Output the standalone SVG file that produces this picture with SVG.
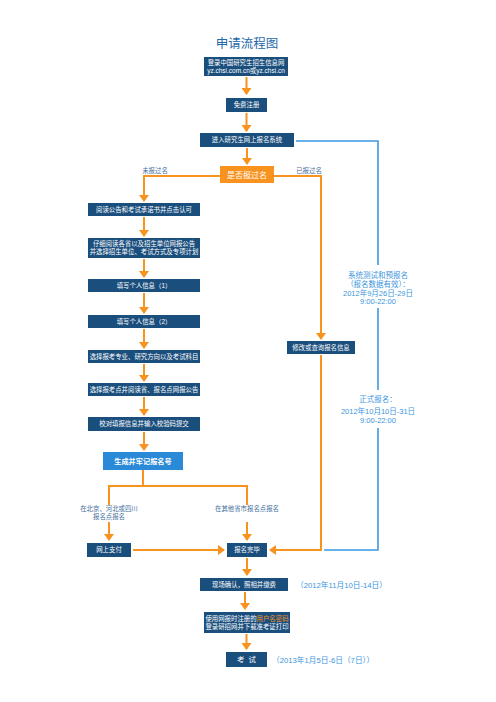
<svg xmlns="http://www.w3.org/2000/svg" width="496" height="702" viewBox="0 0 496 702">
<style>
text{font-family:"Liberation Sans","Noto Sans CJK SC",sans-serif;text-anchor:middle}
.box{fill:#1a4e7d}
.bt{fill:#ffffff;font-size:6.4px}
.or{fill:none;stroke:#f7931e;stroke-width:2}
.bl{fill:none;stroke:#3b98e0;stroke-width:1.6}
.lab{fill:#3f6e9c;font-size:6.4px}
.blt{fill:#3b95dd;font-size:7.5px}
.bll{fill:#3b95dd;font-size:7.7px;text-anchor:start}
</style>
<defs>
<marker id="ah" markerUnits="userSpaceOnUse" viewBox="0 0 7 10" markerWidth="7" markerHeight="10" refX="6" refY="5" orient="auto">
<path d="M0,0 L7,5 L0,10 z" fill="#f7931e"/>
</marker>
</defs>
<rect width="496" height="702" fill="#ffffff"/>
<text x="247" y="48" style="font-size:12.5px;fill:#2667a8">申请流程图</text>

<g id="connectors">
<path class="or" d="M246.5,77 V94" marker-end="url(#ah)"/>
<path class="or" d="M246.5,113 V131" marker-end="url(#ah)"/>
<path class="or" d="M247,148 V164" marker-end="url(#ah)"/>
<path class="or" d="M220,176 H144 V201" marker-end="url(#ah)"/>
<path class="or" d="M274,176 H321 V339" marker-end="url(#ah)"/>
<path class="or" d="M144,217 V236" marker-end="url(#ah)"/>
<path class="or" d="M144,259 V277" marker-end="url(#ah)"/>
<path class="or" d="M144,293 V313" marker-end="url(#ah)"/>
<path class="or" d="M144,329 V348" marker-end="url(#ah)"/>
<path class="or" d="M144,364 V381" marker-end="url(#ah)"/>
<path class="or" d="M144,397 V415" marker-end="url(#ah)"/>
<path class="or" d="M144,432 V450" marker-end="url(#ah)"/>
<path class="or" d="M143,470 V486"/>
<path class="or" d="M109,505 V486 H247 V505"/>
<path class="or" d="M109,522 V540" marker-end="url(#ah)"/>
<path class="or" d="M247,522 V540" marker-end="url(#ah)"/>
<path class="or" d="M133,550 H224" marker-end="url(#ah)"/>
<path class="or" d="M321,355 V550 H270" marker-end="url(#ah)"/>
<path class="bl" d="M296,141 H378 V265"/>
<path class="bl" d="M378,308 V390"/>
<path class="bl" d="M378,428 V550 H324"/>
<path class="or" d="M247,558 V575" marker-end="url(#ah)"/>
<path class="or" d="M245,592 V609" marker-end="url(#ah)"/>
<path class="or" d="M246.5,634 V649" marker-end="url(#ah)"/>
<text class="lab" x="155" y="173">未报过名</text>
<text class="lab" x="309" y="173">已报过名</text>
<text class="lab" x="109" y="511">在北京、河北或四川</text>
<text class="lab" x="109" y="519">报名点报名</text>
<text class="lab" x="247" y="511">在其他省市报名点报名</text>
<text class="blt" x="378" y="277.7">系统测试和预报名</text>
<text class="blt" x="378" y="286.7">（报名数据有效）：</text>
<text class="blt" x="378" y="295.7">2012年9月26日-29日</text>
<text class="blt" x="378" y="304">9:00-22:00</text>
<text class="blt" x="378" y="401.7">正式报名：</text>
<text class="blt" x="378" y="413.5">2012年10月10日-31日</text>
<text class="blt" x="378" y="422.7">9:00-22:00</text>
</g>

<g id="n1"><rect class="box" x="204" y="57" width="84" height="19"/>
<text class="bt" x="246" y="65">登录中国研究生招生信息网</text>
<text class="bt" x="246" y="73.3" style="font-size:6.5px">yz.chsi.com.cn或yz.chsi.cn</text></g>
<g id="n2"><rect class="box" x="226" y="98" width="41" height="14"/>
<text class="bt" x="246.5" y="107.3">免费注册</text></g>
<g id="n3"><rect class="box" x="200" y="133" width="94" height="14"/>
<text class="bt" x="247" y="142.3">进入研究生网上报名系统</text></g>
<g id="n4"><rect x="220" y="166" width="54" height="17" fill="#f7931e"/>
<text x="247" y="177.5" style="fill:#fff;font-size:8px">是否报过名</text></g>
<g id="n5"><rect class="box" x="88" y="203" width="112" height="13"/>
<text class="bt" x="144" y="211.8">阅读公告和考试承诺书并点击认可</text></g>
<g id="n6"><rect class="box" x="88" y="238" width="112" height="20"/>
<text class="bt" x="144" y="246">仔细阅读各省以及招生单位网报公告</text>
<text class="bt" x="144" y="254.3">并选择招生单位、考试方式及专项计划</text></g>
<g id="n7"><rect class="box" x="88" y="279" width="112" height="13"/>
<text class="bt" x="144" y="287.8">填写个人信息（1）</text></g>
<g id="n8"><rect class="box" x="88" y="315" width="112" height="13"/>
<text class="bt" x="144" y="323.8">填写个人信息（2）</text></g>
<g id="n9"><rect class="box" x="88" y="350" width="112" height="13"/>
<text class="bt" x="144" y="358.8">选择报考专业、研究方向以及考试科目</text></g>
<g id="n10"><rect class="box" x="88" y="383" width="112" height="13"/>
<text class="bt" x="144" y="391.8">选择报考点并阅读省、报名点网报公告</text></g>
<g id="n11"><rect class="box" x="88" y="417" width="112" height="14"/>
<text class="bt" x="144" y="426.3">校对填报信息并输入校验码提交</text></g>
<g id="n12"><rect x="103" y="452" width="80" height="18" fill="#2a8ad8"/>
<text x="143" y="463.5" style="fill:#fff;font-size:7.2px;font-weight:bold">生成并牢记报名号</text></g>
<g id="n13"><rect class="box" x="87" y="543" width="44" height="14"/>
<text class="bt" x="109" y="552.3">网上支付</text></g>
<g id="n14"><rect class="box" x="227" y="543" width="40" height="14"/>
<text class="bt" x="247" y="552.3">报名完毕</text></g>
<g id="n15"><rect class="box" x="287" y="341" width="68" height="13"/>
<text class="bt" x="321" y="349.8">修改或查询报名信息</text></g>
<g id="n16"><rect class="box" x="200" y="578" width="88" height="13"/>
<text class="bt" x="244" y="586.8">现场确认，照相并缴费</text>
<text class="bll" x="296" y="588">（2012年11月10日-14日）</text></g>
<g id="n17"><rect class="box" x="204" y="612" width="86" height="21"/>
<text class="bt" x="247" y="620.5">使用网报时注册的<tspan fill="#f7931e">用户名密码</tspan></text>
<text class="bt" x="247" y="629">登录研招网并下载准考证打印</text></g>
<g id="n18"><rect class="box" x="226" y="652" width="41" height="15"/>
<text class="bt" x="246.5" y="662" style="font-size:7.4px" xml:space="preserve">考  试</text>
<text class="bll" x="272" y="662.5">（2013年1月5日-6日（7日））</text></g>
</svg>
